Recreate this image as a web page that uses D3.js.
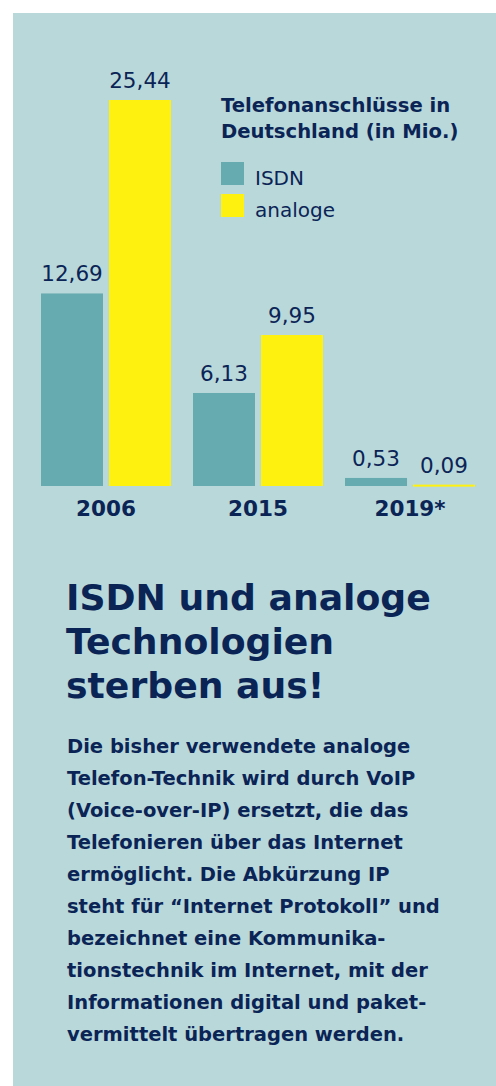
<!DOCTYPE html>
<html>
<head>
<meta charset="utf-8">
<script src="https://cdn.jsdelivr.net/npm/d3@7"></script>
<style>
  html, body { margin: 0; padding: 0; background: #fff; }
  svg { display: block; font-family: "DejaVu Sans", sans-serif; }
</style>
</head>
<body>
<div id="chart"></div>
<script>
// Telefonanschlüsse in Deutschland (in Mio.)
const years = ["2006", "2015", "2019*"];
const series = ["ISDN", "analoge"];
const isdn = [12.69, 6.13, 0.53];
const analoge = [25.44, 9.95, 0.09];

const legendTitle = ["Telefonanschlüsse in", "Deutschland (in Mio.)"];
const headline = ["ISDN und analoge", "Technologien", "sterben aus!"];
const bodyLines = [
  "Die bisher verwendete analoge",
  "Telefon-Technik wird durch VoIP",
  "(Voice-over-IP) ersetzt, die das",
  "Telefonieren über das Internet",
  "ermöglicht. Die Abkürzung IP",
  "steht für “Internet Protokoll” und",
  "bezeichnet eine Kommunika-",
  "tionstechnik im Internet, mit der",
  "Informationen digital und paket-",
  "vermittelt übertragen werden."
];

const W = 496, H = 1086;
const navy = "#0b2456";
const bg = "#b9d8da";
const color = d3.scaleOrdinal().domain(series).range(["#65abaf", "#fff10f"]);
const fmt = d3.formatLocale({ decimal: ",", thousands: ".", grouping: [3], currency: ["", "€"] }).format(".2f");

const data = years.map((y, i) => ({ year: y, values: [
  { key: "ISDN", value: isdn[i] },
  { key: "analoge", value: analoge[i] }
]}));

const svg = d3.select("#chart").append("svg")
  .attr("width", W).attr("height", H);

// Hintergrund-Panel
svg.append("rect").attr("x", 13).attr("y", 13).attr("width", W - 13).attr("height", H - 13).attr("fill", bg);

// Skalen
const x0 = d3.scaleBand().domain(years).range([41, 475]).paddingInner(0.145);
const x1 = d3.scaleBand().domain(series).range([0, x0.bandwidth()]).paddingInner(0.088);
const y = d3.scaleLinear().domain([0, d3.max(analoge)]).range([486, 100]);

const groups = svg.append("g").selectAll("g")
  .data(data)
  .join("g")
    .attr("transform", d => `translate(${x0(d.year)},0)`);

groups.selectAll("rect")
  .data(d => d.values)
  .join("rect")
    .attr("x", d => x1(d.key))
    .attr("y", d => y(d.value))
    .attr("width", x1.bandwidth())
    .attr("height", d => Math.max(2, y(0) - y(d.value)))
    .attr("fill", d => color(d.key));

groups.selectAll("text.val")
  .data(d => d.values)
  .join("text")
    .attr("class", "val")
    .attr("x", d => x1(d.key) + x1.bandwidth() / 2)
    .attr("y", d => y(d.value) - 12)
    .attr("text-anchor", "middle")
    .attr("font-size", 21.5)
    .attr("fill", navy)
    .text(d => fmt(d.value));

// Jahreslabels (ohne Achsenlinie)
const xAxis = svg.append("g")
  .attr("transform", `translate(0,${y(0)})`)
  .call(d3.axisBottom(x0).tickSize(0).tickPadding(15));
xAxis.select(".domain").remove();
xAxis.selectAll("text")
  .attr("font-family", "'DejaVu Sans', sans-serif")
  .attr("font-size", 21.5)
  .attr("font-weight", 700)
  .attr("fill", navy)
  .attr("dy", "0.71em");

// Legende
const lg = svg.append("g").attr("transform", "translate(221,0)");
lg.append("text")
  .attr("y", 112)
  .attr("font-size", 19.6)
  .attr("font-weight", 700)
  .attr("fill", navy)
  .selectAll("tspan")
  .data(legendTitle)
  .join("tspan")
    .attr("x", 0)
    .attr("dy", (d, i) => i ? 26 : 0)
    .text(d => d);

const li = lg.selectAll("g.item")
  .data(series)
  .join("g")
    .attr("class", "item")
    .attr("transform", (d, i) => `translate(0,${162 + i * 32})`);
li.append("rect").attr("width", 23).attr("height", 23).attr("fill", d => color(d));
li.append("text")
  .attr("x", 34).attr("y", 23)
  .attr("font-size", 20)
  .attr("fill", navy)
  .text(d => d);

// Überschrift
svg.append("text")
  .attr("y", 610)
  .attr("font-size", 36.2)
  .attr("font-weight", 700)
  .attr("fill", navy)
  .selectAll("tspan")
  .data(headline)
  .join("tspan")
    .attr("x", 66)
    .attr("dy", (d, i) => i ? 44 : 0)
    .text(d => d);

// Fließtext
svg.append("text")
  .attr("y", 753)
  .attr("font-size", 19.5)
  .attr("font-weight", 700)
  .attr("fill", navy)
  .selectAll("tspan")
  .data(bodyLines)
  .join("tspan")
    .attr("x", 67)
    .attr("dy", (d, i) => i ? 32 : 0)
    .text(d => d);
</script>
</body>
</html>
